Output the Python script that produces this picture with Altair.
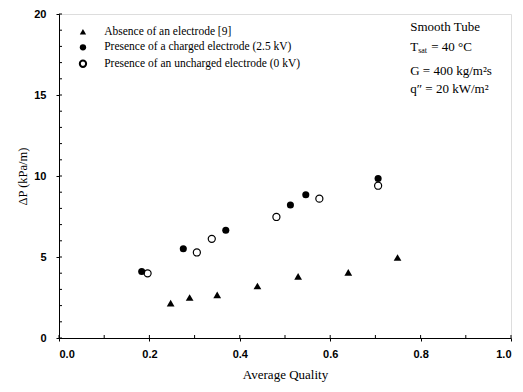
import altair as alt
import pandas as pd

# Data
tri_x = [0.247, 0.289, 0.350, 0.439, 0.529, 0.640, 0.749]
tri_y = [2.15, 2.50, 2.66, 3.21, 3.81, 4.05, 4.97]
fill_x = [0.183, 0.275, 0.369, 0.512, 0.546, 0.706]
fill_y = [4.11, 5.51, 6.65, 8.21, 8.84, 9.85]
open_x = [0.196, 0.305, 0.338, 0.481, 0.576, 0.706]
open_y = [3.99, 5.28, 6.12, 7.47, 8.60, 9.40]

legend_labels = ["Absence of an electrode [9]",
                 "Presence of a charged electrode (2.5 kV)",
                 "Presence of an uncharged electrode (0 kV)"]
x_ticks = [0.0, 0.2, 0.4, 0.6, 0.8, 1.0]
y_ticks = [0, 5, 10, 15, 20]
y_minor = list(range(0, 21))
x_minor = [i / 10 for i in range(0, 11)]

SERIF = "Liberation Serif"
SANS = "Liberation Sans"

xs = alt.Scale(domain=[0, 1], nice=False)
ys = alt.Scale(domain=[0, 20], nice=False)

tri = pd.DataFrame({"x": tri_x, "y": tri_y})
fil = pd.DataFrame({"x": fill_x, "y": fill_y})
opn = pd.DataFrame({"x": open_x, "y": open_y})

H = 324

base_x = alt.X("x:Q", scale=xs, title="Average Quality",
               axis=alt.Axis(values=x_ticks, format=".1f", grid=False,
                             labelFont=SANS, labelFontWeight="bold", labelFontSize=11,
                             labelColor="black", titleFont=SERIF, titleFontSize=13,
                             titleFontWeight="normal", titleColor="black", titlePadding=9,
                             domainColor="black", tickColor="black", tickSize=3,
                             labelPadding=7))
base_y = alt.Y("y:Q", scale=ys, title="ΔP (kPa/m)",
               axis=alt.Axis(values=y_ticks, format="d", grid=False,
                             labelFont=SANS, labelFontWeight="bold", labelFontSize=11,
                             labelColor="black", titleFont=SERIF, titleFontSize=12.5,
                             titleFontWeight="normal", titleColor="black", titlePadding=4,
                             domainColor="black", tickColor="black", tickSize=3,
                             labelPadding=10))

p_tri = alt.Chart(tri).mark_point(shape="triangle-up", filled=True, color="black", size=60,
                                  opacity=1).encode(x=base_x, y=base_y)
p_fil = alt.Chart(fil).mark_point(shape="circle", filled=True, color="black", size=50,
                                  opacity=1).encode(x="x:Q", y="y:Q")
p_opn = alt.Chart(opn).mark_point(shape="circle", filled=False, color="black", size=50,
                                  strokeWidth=1.2, opacity=1).encode(x="x:Q", y="y:Q")

# minor ticks inside the left axis and bottom axis
ymin_df = pd.DataFrame({"y": y_minor})
xmin_df = pd.DataFrame({"x": x_minor})
minor_y = alt.Chart(ymin_df).mark_rule(color="black", strokeWidth=1).encode(
    y="y:Q", x=alt.value(0), x2=alt.value(3))
minor_x = alt.Chart(xmin_df).mark_rule(color="black", strokeWidth=1).encode(
    x="x:Q", y=alt.value(H), y2=alt.value(H - 3))

# legend (manual)
leg_df = pd.DataFrame({"x": [0.053] * 3, "y": [18.9, 17.94, 16.93],
                       "label": legend_labels, "tx": [0.1] * 3})
leg_tri = alt.Chart(leg_df.iloc[[0]]).mark_point(shape="triangle-up", filled=True,
                                                  color="black", size=40, opacity=1).encode(x="x:Q", y="y:Q")
leg_fil = alt.Chart(leg_df.iloc[[1]]).mark_point(shape="circle", filled=True,
                                                  color="black", size=40, opacity=1).encode(x="x:Q", y="y:Q")
leg_opn = alt.Chart(leg_df.iloc[[2]]).mark_point(shape="circle", filled=False,
                                                  color="black", size=40, opacity=1).encode(x="x:Q", y="y:Q")
leg_txt = alt.Chart(leg_df).mark_text(align="left", baseline="middle", font=SERIF,
                                      fontSize=11.5, color="black").encode(
    x="tx:Q", y="y:Q", text="label:N")

# annotation block
ann_df = pd.DataFrame({"x": [0.777, 0.777, 0.777],
                       "y": [19.2, 16.5, 15.34],
                       "t": ["Smooth Tube", "G = 400 kg/m²s", "q″ = 20 kW/m²"]})
ann = alt.Chart(ann_df).mark_text(align="left", baseline="middle", font=SERIF,
                                  fontSize=13, color="black").encode(
    x="x:Q", y="y:Q", text="t:N")
tsat_df = pd.DataFrame({"x": [0.777], "y": [17.98]})
t_T = alt.Chart(tsat_df).mark_text(align="left", baseline="middle", font=SERIF,
                                   fontSize=13, color="black", text="T").encode(x="x:Q", y="y:Q")
t_sub = alt.Chart(tsat_df).mark_text(align="left", baseline="middle", font=SERIF,
                                     fontSize=8, color="black", text="sat", dx=8, dy=4).encode(x="x:Q", y="y:Q")
t_rest = alt.Chart(tsat_df).mark_text(align="left", baseline="middle", font=SERIF,
                                      fontSize=13, color="black", text="= 40 °C", dx=21).encode(x="x:Q", y="y:Q")

chart = alt.layer(p_tri, p_fil, p_opn, minor_y, minor_x, leg_tri, leg_fil, leg_opn, leg_txt,
                  ann, t_T, t_sub, t_rest).properties(
    width=452, height=H,
    padding={"left": 51, "top": 6, "right": 4, "bottom": 52},
    autosize=alt.AutoSizeParams(type="none")
).configure_view(stroke="black", strokeWidth=1).configure(background="white")

chart.save("out.html", embed_options={"renderer": "svg", "actions": False})
